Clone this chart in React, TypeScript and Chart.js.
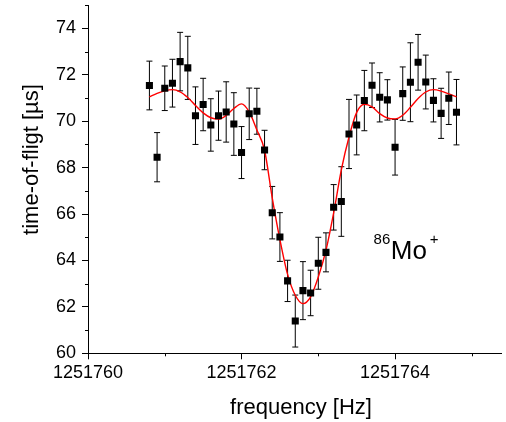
import React, { useEffect, useRef } from 'react';
import { Chart, registerables } from 'chart.js';

Chart.register(...registerables);

// Measured data points (frequency in Hz, time-of-flight in µs, 1σ error)
const frequency = [
  1251760.8, 1251760.9, 1251761.0, 1251761.1, 1251761.2, 1251761.3, 1251761.4, 1251761.5,
  1251761.6, 1251761.7, 1251761.8, 1251761.9, 1251762.0, 1251762.1, 1251762.2, 1251762.3,
  1251762.4, 1251762.5, 1251762.6, 1251762.7, 1251762.8, 1251762.9, 1251763.0, 1251763.1,
  1251763.2, 1251763.3, 1251763.4, 1251763.5, 1251763.6, 1251763.7, 1251763.8, 1251763.9,
  1251764.0, 1251764.1, 1251764.2, 1251764.3, 1251764.4, 1251764.5, 1251764.6, 1251764.7,
  1251764.8,
];
const timeOfFlight = [
  71.54, 68.45, 71.42, 71.64, 72.57, 72.3, 70.24, 70.72,
  69.84, 70.24, 70.4, 69.88, 68.65, 70.32, 70.43, 68.76,
  66.06, 65.01, 63.12, 61.39, 62.7, 62.6, 63.88, 64.35,
  66.29, 66.54, 69.45, 69.84, 70.89, 71.55, 71.03, 70.92,
  68.88, 71.19, 71.68, 72.54, 71.69, 70.9, 70.34, 70.99,
  70.39,
];
const tofError = [
  1.05, 1.06, 0.96, 1.03, 1.26, 1.36, 1.24, 1.13,
  1.13, 1.06, 1.3, 1.35, 1.12, 1.11, 0.99, 0.85,
  1.13, 1.05, 0.89, 1.12, 1.25, 0.98, 1.12, 0.84,
  0.98, 1.5, 1.49, 1.29, 1.3, 0.96, 1.06, 0.87,
  1.2, 1.15, 1.7, 1.2, 1.16, 0.93, 1.08, 1.13,
  1.41,
];

// Fitted resonance curve
const fitFrequency = [
  1251760.8, 1251760.9, 1251761.0, 1251761.1, 1251761.2, 1251761.3, 1251761.4, 1251761.5,
  1251761.6, 1251761.7, 1251761.8, 1251761.9, 1251762.0, 1251762.1, 1251762.2, 1251762.3,
  1251762.4, 1251762.5, 1251762.6, 1251762.7, 1251762.8, 1251762.9, 1251763.0, 1251763.1,
  1251763.2, 1251763.3, 1251763.4, 1251763.5, 1251763.6, 1251763.7, 1251763.8, 1251763.9,
  1251764.0, 1251764.1, 1251764.2, 1251764.3, 1251764.4, 1251764.5, 1251764.6, 1251764.7,
  1251764.8,
];
const fitTimeOfFlight = [
  71.05, 71.2, 71.31, 71.36, 71.27, 71.02, 70.68, 70.36,
  70.15, 70.09, 70.25, 70.55, 70.75, 70.4, 69.62, 68.75,
  66.7, 64.9, 63.4, 62.5, 62.14, 62.43, 63.29, 64.44,
  66.05, 67.9, 69.32, 70.38, 70.73, 70.62, 70.33, 70.14,
  70.1, 70.26, 70.6, 70.98, 71.26, 71.36, 71.3, 71.18,
  71.05,
];

const xAxisTitle = 'frequency [Hz]';
const yAxisTitle = 'time-of-fligt [µs]';
const ionMass = '86';
const ionSymbol = 'Mo';
const ionCharge = '+';

const FONT = "'Liberation Sans', Arial, Helvetica, sans-serif";

const isMajor = (v: number) => Math.round(v) % 2 === 0;

const overlayPlugin = {
  id: 'overlay',
  beforeDatasetsDraw(chart: any) {
    const { ctx, scales } = chart;
    const x = scales.x;
    const y = scales.y;
    ctx.save();
    ctx.strokeStyle = '#000';
    ctx.lineWidth = 1;
    frequency.forEach((f, i) => {
      const px = x.getPixelForValue(f);
      const yt = y.getPixelForValue(timeOfFlight[i] + tofError[i]);
      const yb = y.getPixelForValue(timeOfFlight[i] - tofError[i]);
      ctx.beginPath();
      ctx.moveTo(px, yt);
      ctx.lineTo(px, yb);
      ctx.moveTo(px - 3, yt);
      ctx.lineTo(px + 3, yt);
      ctx.moveTo(px - 3, yb);
      ctx.lineTo(px + 3, yb);
      ctx.stroke();
    });
    ctx.restore();
  },
  afterDraw(chart: any) {
    const { ctx, scales, chartArea } = chart;
    const x = scales.x;
    const y = scales.y;
    ctx.save();
    // minor ticks
    ctx.strokeStyle = '#000';
    ctx.lineWidth = 1;
    ctx.beginPath();
    x.ticks.forEach((t: any) => {
      if (!isMajor(t.value)) {
        const px = Math.round(x.getPixelForValue(t.value)) + 0.5;
        ctx.moveTo(px, chartArea.bottom);
        ctx.lineTo(px, chartArea.bottom + 3);
      }
    });
    y.ticks.forEach((t: any) => {
      if (!isMajor(t.value)) {
        const py = Math.round(y.getPixelForValue(t.value)) + 0.5;
        ctx.moveTo(chartArea.left, py);
        ctx.lineTo(chartArea.left - 3, py);
      }
    });
    ctx.stroke();

    ctx.fillStyle = '#000';
    // x-axis title
    ctx.font = `22px ${FONT}`;
    ctx.textAlign = 'center';
    ctx.textBaseline = 'alphabetic';
    ctx.fillText(xAxisTitle, 301, 414);
    // y-axis title
    ctx.save();
    ctx.translate(37.5, 159.5);
    ctx.rotate(-Math.PI / 2);
    ctx.fillText(yAxisTitle, 0, 0);
    ctx.restore();

    // ion label
    const ax = x.getPixelForValue(1251763.72);
    const base = y.getPixelForValue(64.7);
    ctx.textAlign = 'left';
    ctx.font = `15px ${FONT}`;
    ctx.fillText(ionMass, ax, base);
    const w1 = ctx.measureText(ionMass).width;
    ctx.font = `26px ${FONT}`;
    ctx.fillText(ionSymbol, ax + w1 + 0.5, base + 15);
    const w2 = ctx.measureText(ionSymbol).width;
    ctx.font = `15px ${FONT}`;
    ctx.fillText(ionCharge, ax + w1 + w2 + 3.5, base);
    ctx.restore();
  },
};

export default function App() {
  const canvasRef = useRef<HTMLCanvasElement | null>(null);

  useEffect(() => {
    document.body.style.margin = '0';
    const canvas = canvasRef.current;
    if (!canvas) return;
    Chart.defaults.font.family = FONT;
    Chart.defaults.color = '#000';

    const chart = new Chart(canvas, {
      type: 'scatter',
      data: {
        datasets: [
          {
            label: 'data',
            data: frequency.map((f, i) => ({ x: f, y: timeOfFlight[i] })),
            pointStyle: 'rect',
            pointRadius: 5,
            pointHoverRadius: 5,
            borderWidth: 0,
            backgroundColor: '#000',
            borderColor: '#000',
            showLine: false,
          },
          {
            label: 'fit',
            data: fitFrequency.map((f, i) => ({ x: f, y: fitTimeOfFlight[i] })),
            showLine: true,
            borderColor: '#ff0000',
            borderWidth: 1.4,
            pointRadius: 0,
            pointHoverRadius: 0,
            cubicInterpolationMode: 'monotone',
            fill: false,
          },
        ],
      },
      options: {
        animation: false,
        responsive: false,
        maintainAspectRatio: false,
        events: [],
        layout: { padding: { top: 5.2, left: 0, right: 0, bottom: 0 } },
        plugins: {
          legend: { display: false },
          tooltip: { enabled: false },
          title: { display: false },
        },
        scales: {
          x: {
            type: 'linear',
            min: 1251760,
            max: 1251765.38,
            grid: {
              display: true,
              drawOnChartArea: false,
              drawTicks: true,
              tickLength: 6,
              tickWidth: 1,
              tickColor: (c: any) => (c.tick && isMajor(c.tick.value) ? '#000' : 'rgba(0,0,0,0)'),
            },
            border: { display: true, color: '#000', width: 1 },
            ticks: {
              stepSize: 1,
              includeBounds: false,
              autoSkip: false,
              maxRotation: 0,
              padding: 3,
              font: { size: 18, family: FONT },
              color: '#000',
              callback: (v: any) => (isMajor(Number(v)) ? String(Math.round(Number(v))) : ''),
            },
            afterFit: (s: any) => {
              s.height = 68.7;
              s.paddingLeft = 0;
              s.paddingRight = 0;
            },
          },
          y: {
            type: 'linear',
            min: 60,
            max: 75,
            grid: {
              display: true,
              drawOnChartArea: false,
              drawTicks: true,
              tickLength: 6,
              tickWidth: 1,
              tickColor: (c: any) => (c.tick && isMajor(c.tick.value) ? '#000' : 'rgba(0,0,0,0)'),
            },
            border: { display: true, color: '#000', width: 1 },
            ticks: {
              stepSize: 1,
              includeBounds: false,
              autoSkip: false,
              padding: 6,
              font: { size: 18, family: FONT },
              color: '#000',
              callback: (v: any) => (isMajor(Number(v)) ? String(Math.round(Number(v))) : ''),
            },
            afterFit: (s: any) => {
              s.width = 88;
              s.paddingTop = 0;
              s.paddingBottom = 0;
            },
          },
        },
      },
      plugins: [overlayPlugin],
    });

    return () => {
      chart.destroy();
    };
  }, []);

  return (
    <div style={{ width: 506, height: 422, position: 'relative', background: '#fff' }}>
      <canvas ref={canvasRef} width={506} height={422} style={{ display: 'block' }} />
    </div>
  );
}
